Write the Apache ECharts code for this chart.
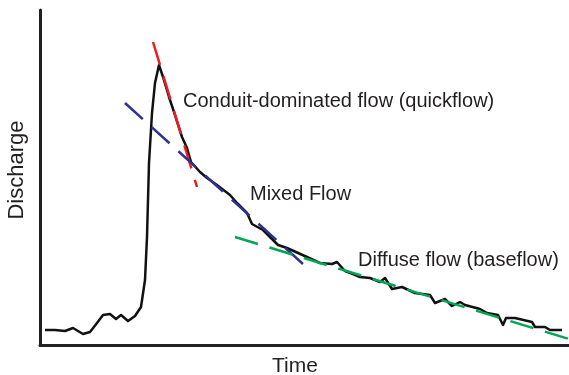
<!DOCTYPE html>
<html>
<head>
<meta charset="utf-8">
<script src="https://cdn.jsdelivr.net/npm/echarts@6/dist/echarts.min.js"></script>
<style>html,body{margin:0;padding:0;background:#fff}#c{width:569px;height:375px}</style>
</head>
<body>
<div id="c"></div>
<script>
// Hydrograph: time (arbitrary units) vs discharge (arbitrary units)
const time = [5,15,25,33,43,50,57,63,70,76,81,88,95,101,105,107,109,112,115,119,123,129,135,142,147,151,160,167,177,190,197,207,212,223,230,238,247,267,280,292,297,305,313,320,330,340,345,352,362,375,390,395,405,412,420,425,440,447,458,463,466,475,492,495,505,510,522];
const discharge = [15,15,14,17,11,13,22,30,31,26,30,24,29,38,65,108,182,232,262,280,268,248,230,208,197,183,173,167,160,150,142,132,121,115,108,100,97,88,82,81,83,74,71,68,67,63,67,56,58,52,50,42,46,39,43,40,36,32,30,20,27,27,23,18,18,15,15];
// Recession trend lines (start, end)
const quickflowTime = [113,157];
const quickflowQ = [303,158];
const mixedTime = [85,263];
const mixedQ = [242,81];
const baseflowTime = [195,529];
const baseflowQ = [108,6];
const labels = {
  x: 'Time', y: 'Discharge',
  quick: 'Conduit-dominated flow (quickflow)',
  mixed: 'Mixed Flow',
  base: 'Diffuse flow (baseflow)'
};

const zip = (a,b) => a.map((v,i)=>[v,b[i]]);
const font = '"Liberation Sans", Arial, Helvetica, sans-serif';
const txt = (text, left, top, size, extra) => Object.assign({
  type:'text', style:{text, fill:'#231f20', font: size+'px '+font, textVerticalAlign:'middle'}, x:left, y:top
}, extra||{});

const chart = echarts.init(document.getElementById('c'), null, {renderer:'canvas'});
chart.setOption({
  animation:false,
  backgroundColor:'#fff',
  grid:{left:40, right:0, top:10, bottom:30},
  xAxis:{type:'value', min:0, max:529,
    axisLine:{show:true, onZero:false, lineStyle:{color:'#231f20', width:3}},
    axisTick:{show:false}, axisLabel:{show:false}, splitLine:{show:false}},
  yAxis:{type:'value', min:0, max:335,
    axisLine:{show:true, onZero:false, lineStyle:{color:'#231f20', width:3}},
    axisTick:{show:false}, axisLabel:{show:false}, splitLine:{show:false}},
  series:[
    {type:'line', data:zip(time,discharge), symbol:'none', z:2,
      lineStyle:{color:'#111', width:2.5, join:'round'}},
    {type:'line', data:zip(quickflowTime,quickflowQ), symbol:'none', z:3,
      lineStyle:{color:'#ed1c24', width:2.5, type:[24,12]}},
    {type:'line', data:zip(mixedTime,mixedQ), symbol:'none', z:3,
      lineStyle:{color:'#2e3192', width:2.5, type:[24,12]}},
    {type:'line', data:zip(baseflowTime,baseflowQ), symbol:'none', z:3,
      lineStyle:{color:'#00a651', width:2.5, type:[24,12]}}
  ],
  graphic:[
    txt(labels.quick, 183, 101, 20),
    txt(labels.mixed, 250, 194, 20),
    txt(labels.base, 358, 260, 20),
    {type:'text', x:17, y:170, rotation:Math.PI/2,
      style:{text:labels.y, fill:'#231f20', font:'22px '+font, textAlign:'center', textVerticalAlign:'middle'}},
    {type:'text', x:295, y:366,
      style:{text:labels.x, fill:'#231f20', font:'21px '+font, textAlign:'center', textVerticalAlign:'middle'}}
  ]
});
</script>
</body>
</html>
